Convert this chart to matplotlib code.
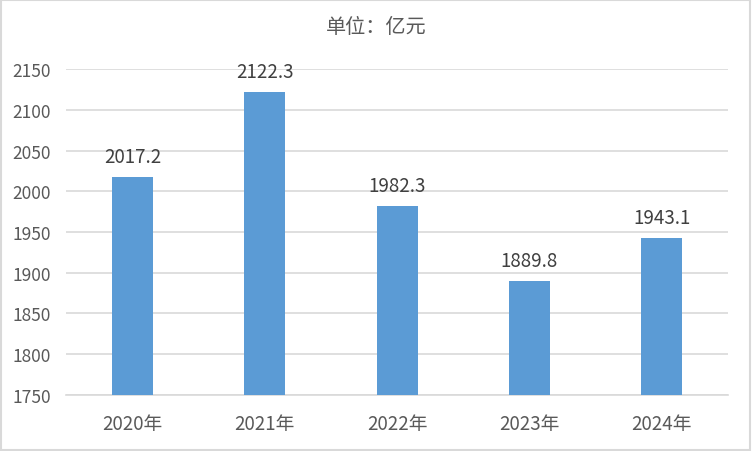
import matplotlib.pyplot as plt

plt.rcParams['font.family'] = ['Noto Sans CJK SC', 'DejaVu Sans']

years = ['2020年', '2021年', '2022年', '2023年', '2024年']
values = [2017.2, 2122.3, 1982.3, 1889.8, 1943.1]
yticks = [1750, 1800, 1850, 1900, 1950, 2000, 2050, 2100, 2150]

fig = plt.figure(figsize=(7.52, 4.52), dpi=100)
ax = fig.add_axes([0.088, 0.124, 0.88, 0.721])

x = range(len(years))
ax.bar(x, values, width=0.31, color='#5B9BD5', zorder=3)

for i, v in enumerate(values):
    ax.text(i, v + 12, f'{v:.1f}', ha='center', va='bottom', fontsize=13.5, color='#404040')

ax.set_ylim(1750, 2150)
ax.set_xlim(-0.5, len(years) - 0.5)
ax.set_yticks(yticks)
ax.set_xticks(list(x))
ax.set_xticklabels(years)
ax.tick_params(length=0, labelcolor='#595959')
ax.tick_params(axis='x', pad=13, labelsize=13.5)
ax.tick_params(axis='y', pad=11, labelsize=12.5)
ax.grid(axis='y', color='#d9d9d9', linewidth=1.2, zorder=0)
for s in ['top', 'right', 'left']:
    ax.spines[s].set_visible(False)
ax.spines['bottom'].set_color('#d9d9d9')
ax.spines['bottom'].set_linewidth(1.2)

fig.text(0.5, 0.94, '单位：亿元', ha='center', va='center', fontsize=14.5, color='#595959')

# outer border
fig.patches.append(plt.Rectangle((0.001, 0.002), 0.997, 0.995, transform=fig.transFigure,
                                 fill=False, edgecolor='#d9d9d9', linewidth=1.5))

fig.savefig('out.png', dpi=100)
